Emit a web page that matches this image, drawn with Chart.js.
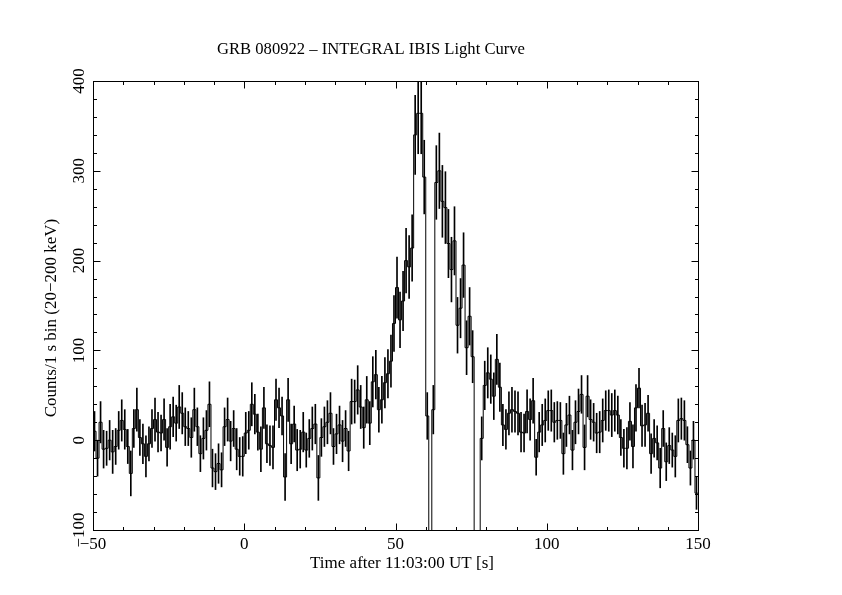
<!DOCTYPE html>
<html><head><meta charset="utf-8">
<script src="https://cdn.jsdelivr.net/npm/chart.js@4.4.1/dist/chart.umd.min.js"></script>
<style>html,body{margin:0;padding:0;background:#fff;} canvas{display:block;}</style>
</head><body>
<canvas id="c" width="842" height="595"></canvas>
<script>
const titleText = 'GRB 080922 \u2013 INTEGRAL IBIS Light Curve';
const xTitle = 'Time after 11:03:00 UT [s]';
const yTitle = 'Counts/1 s bin (20\u2212200 keV)';

const firstBinStart = -50;
const binWidth = 1;

// counts per 1 s bin, t = -50 ... 149 (off-scale dropouts below -100)
const counts = [
  10,-20,20,-10,-9,0,-13,-7,11,22, 12,-7,-37,13,34,3,-4,-18,-4,13,
  23,9,8,23,-8,15,26,19,37,30, 15,13,3,34,15,-15,2,11,40,-31,
  -35,-26,-33,15,23,-1,13,-10,-18,-18,
  8,11,40,29,9,-10,36,-4,-6,-8, 45,36,27,-41,45,
  -4,18,-11,-10,9,-11,2,13,18,-42, 3,15,20,30,-7,7,17,-1,13,-12,
  43,43,56,37,14,45,19,65,73,34, 45,64,74,88,130,170,134,155,200,193,
  214,340,364,364,293,27,
  -250,
  34,287,300,266,259,219,190,222,128,147,195,103,138,93,
  -250,-250,
  2,61,75,68,49,90,59,17,12,30, 34,32,30,9,8,32,23,44,-19,9,
  17,22,33,33,20,22,22,-15,17,28, -11,20,32,51,-8,49,23,20,8,9,
  22,33,33,28,33,28,3,-9,-9,21, -7,36,58,16,17,30,-15,2,-3,-31,
  13,-24,-6,-11,-18,22,24,22,-5,-31, 0,-59
];

// 1-sigma error half-widths per bin (0 = no bar)
const errors = [
  22,20,23,21,19,22,24,20,21,23, 22,19,25,21,24,20,22,23,19,21,
  24,22,20,23,21,25,22,20,24,23, 21,19,22,24,21,20,23,22,25,21,
  20,22,19,21,24,22,20,23,21,22,
  23,21,24,22,20,25,23,21,22,24, 23,22,21,26,24,
  22,20,23,21,22,19,21,24,22,25, 21,22,24,23,20,22,21,23,20,22,
  25,24,27,24,23,26,24,28,27,25, 26,28,27,29,
  31,34,31,33,36,35,37,44,45,45,41,26,
  0,
  27,41,42,40,40,38,36,38,31,33,36,30,32,29,
  0,0,
  24,27,28,27,26,28,27,23,22,24, 25,23,24,22,21,24,23,25,20,22,
  23,24,22,23,22,21,20,23,24,21, 22,24,25,21,25,23,22,21,22,23,
  24,22,23,24,23,21,20,21,23,21, 24,26,22,23,24,20,22,21,19,22,
  20,21,20,19,23,24,23,22,20,19, 21,18
];

const xTicks = [-50, 0, 50, 100, 150];
const yTicks = [-100, 0, 100, 200, 300, 400];
const xMinorStep = 10;
const yMinorStep = 20;

const stepData = counts.map((v, i) => ({x: firstBinStart + i * binWidth, y: v}));
stepData.push({x: firstBinStart + counts.length * binWidth, y: counts[counts.length - 1]});
const errData = [];
counts.forEach((v, i) => {
  if (errors[i] > 0) errData.push({x: firstBinStart + (i + 0.5) * binWidth, y: [v - errors[i], v + errors[i]]});
});

const fmt = v => String(v).replace('-', '\u2212');
const FONT = '17px "Liberation Serif", "DejaVu Serif", serif';
const TITLE_FONT = '16.6px "Liberation Serif", "DejaVu Serif", serif';

const framePlugin = {
  id: 'pgplotFrame',
  afterDatasetsDraw(chart) {
    const {ctx, chartArea: a} = chart;
    const x = chart.scales.x, y = chart.scales.y;
    ctx.save();
    ctx.strokeStyle = '#000';
    ctx.lineWidth = 1;
    const L = Math.round(a.left) + 0.5, R = Math.round(a.right) + 0.5;
    const T = Math.round(a.top) + 0.5, B = Math.round(a.bottom) + 0.5;
    ctx.strokeRect(L, T, R - L, B - T);
    ctx.beginPath();
    const nx = Math.round((x.max - x.min) / xMinorStep);
    for (let k = 0; k <= nx; k++) {
      const v = x.min + k * xMinorStep;
      const px = Math.round(x.getPixelForValue(v)) + 0.5;
      const len = xTicks.includes(v) ? 7 : 3.5;
      ctx.moveTo(px, B); ctx.lineTo(px, B - len);
      ctx.moveTo(px, T); ctx.lineTo(px, T + len);
    }
    const ny = Math.round((y.max - y.min) / yMinorStep);
    for (let k = 0; k <= ny; k++) {
      const v = y.min + k * yMinorStep;
      const py = Math.round(y.getPixelForValue(v)) + 0.5;
      const len = yTicks.includes(v) ? 7 : 3.5;
      ctx.moveTo(L, py); ctx.lineTo(L + len, py);
      ctx.moveTo(R, py); ctx.lineTo(R - len, py);
    }
    ctx.stroke();

    ctx.fillStyle = '#000';
    ctx.font = FONT;
    ctx.textAlign = 'center';
    ctx.textBaseline = 'alphabetic';
    xTicks.forEach(v => ctx.fillText(fmt(v), x.getPixelForValue(v), 549));
    yTicks.forEach(v => {
      ctx.save();
      ctx.translate(84, y.getPixelForValue(v));
      ctx.rotate(-Math.PI / 2);
      ctx.fillText(fmt(v), 0, 0);
      ctx.restore();
    });
    ctx.fillText(xTitle, 402, 568);
    ctx.save();
    ctx.translate(56, 318);
    ctx.rotate(-Math.PI / 2);
    ctx.fillText(yTitle, 0, 0);
    ctx.restore();
    ctx.font = TITLE_FONT;
    ctx.fillText(titleText, 371, 54);
    ctx.restore();
  }
};

new Chart(document.getElementById('c'), {
  type: 'line',
  data: {
    datasets: [
      {
        type: 'bar',
        label: 'errors',
        data: errData,
        backgroundColor: '#000',
        borderWidth: 0,
        barThickness: 1,
        clip: 0,
        order: 2
      },
      {
        type: 'line',
        label: 'counts',
        data: stepData,
        stepped: true,
        borderColor: '#000',
        borderWidth: 1,
        pointRadius: 0,
        fill: false,
        tension: 0,
        clip: 0,
        order: 1
      }
    ]
  },
  options: {
    responsive: false,
    animation: false,
    devicePixelRatio: 1,
    layout: {padding: {left: 93, right: 144, top: 81, bottom: 65}},
    plugins: {legend: {display: false}, tooltip: {enabled: false}, title: {display: false}},
    scales: {
      x: {type: 'linear', min: -50, max: 150, display: false, offset: false, grid: {offset: false}},
      y: {type: 'linear', min: -100, max: 400, display: false, beginAtZero: false}
    }
  },
  plugins: [framePlugin]
});
</script>
</body></html>
